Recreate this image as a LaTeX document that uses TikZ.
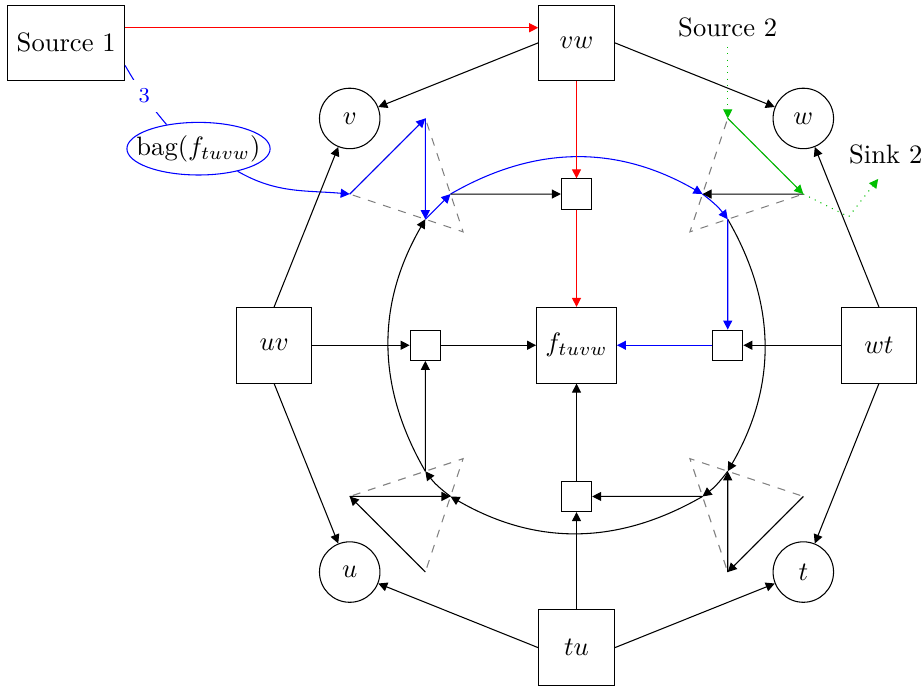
\documentclass[tikz,border=0pt]{standalone}
\usetikzlibrary{arrows.meta,shapes.geometric,calc}

\begin{document}
\begin{tikzpicture}[>={Triangle[length=3.4pt,width=3.4pt]},
    bigbox/.style={draw, minimum size=1cm},
    vertex/.style={draw, circle, minimum size=0.8cm, inner sep=0pt},
    smallbox/.style={draw, minimum size=0.4cm, inner sep=0pt},
    gadget/.style={draw, gray, dashed},
    srcgreen/.style={draw, green!75!black}]
            \useasboundingbox(-7.626,-4.52)rectangle(4.583,4.567);
            % edge nodes and vertices
            \node[bigbox](f)at(0,0){$f_{tuvw}$};
            \node[bigbox](vw)at(0,4){$vw$};
            \node[bigbox](tu)at(0,-4){$tu$};
            \node[bigbox](uv)at(-4,0){$uv$};
            \node[bigbox](wt)at(4,0){$wt$};
            \node[vertex](v)at(-3,3){$v$};
            \node[vertex](w)at(3,3){$w$};
            \node[vertex](u)at(-3,-3){$u$};
            \node[vertex](t)at(3,-3){$t$};
            % sources, sink, bag
            \node[bigbox](s1)at(-6.75,4){Source 1};
            \node(s2)at(2,4.2){Source 2};
            \node(sink)at(4.09,2.52){Sink 2};
            \coordinate(sinkend)at(3.99,2.2);
            \node[ellipse, draw=blue, inner xsep=-4.3pt, inner ysep=2pt](bag)at(-5,2.6){bag$(f_{tuvw})$};
            % small boxes
            \node[smallbox](gt)at(0,2){};
            \node[smallbox](gl)at(-2,0){};
            \node[smallbox](gr)at(2,0){};
            \node[smallbox](gb)at(0,-2){};
            % triangles
            \coordinate(tl1)at(-3,2);\coordinate(tl2)at(-2,3);\coordinate(tl3)at(-1.5,1.5);
            \coordinate(tr1)at(2,3);\coordinate(tr2)at(3,2);\coordinate(tr3)at(1.5,1.5);
            \coordinate(br1)at(3,-2);\coordinate(br2)at(2,-3);\coordinate(br3)at(1.5,-1.5);
            \coordinate(bl1)at(-3,-2);\coordinate(bl2)at(-2,-3);\coordinate(bl3)at(-1.5,-1.5);
            \path[gadget](tl1)--(tl2)--(tl3)--cycle;
            \path[gadget](tr1)--(tr2)--(tr3)--cycle;
            \path[gadget](br1)--(br2)--(br3)--cycle;
            \path[gadget](bl1)--(bl2)--(bl3)--cycle;
            \coordinate(tla)at($(tl1)!2/3!(tl3)$);
            \coordinate(tlb)at($(tl2)!2/3!(tl3)$);
            \coordinate(tra)at($(tr2)!2/3!(tr3)$);
            \coordinate(trb)at($(tr1)!2/3!(tr3)$);
            \coordinate(bra)at($(br1)!2/3!(br3)$);
            \coordinate(brb)at($(br2)!2/3!(br3)$);
            \coordinate(bla)at($(bl1)!2/3!(bl3)$);
            \coordinate(blb)at($(bl2)!2/3!(bl3)$);
            % ring
            \path[draw,->](tra)to[bend left=30](bra);
            \path[draw,->](bra)to[bend left=8](brb);
            \path[draw,->](brb)to[bend left=30](blb);
            \path[draw,->](blb)to[bend left=8](bla);
            \path[draw,->](bla)to[bend left=30](tla);
            \path[draw,blue,->](tla)--(tlb);
            \path[draw,blue,->](tlb)to[bend left=30](trb);
            \path[draw,blue,->](trb)to[bend left=8](tra);
            % inside the triangles
            \path[draw,blue,->](bag)to[out=-30,in=175](tl1);
            \path[draw,blue,->](tl1)--(tl2);
            \path[draw,blue,->](tl2)--(tla);
            \path[draw,->](tlb)--(gt);
            \path[draw,->](tr2)--(trb);
            \path[draw,blue,->](tra)--(gr);
            \path[draw,->](br1)--(br2);
            \path[draw,->](br2)--(bra);
            \path[draw,->](brb)--(gb);
            \path[draw,->](bl2)--(bl1);
            \path[draw,->](bl1)--(blb);
            \path[draw,->](bla)--(gl);
            % source 2 to sink 2
            \path[srcgreen,dotted,->](s2)--(tr1);
            \path[srcgreen,->](tr1)--(tr2);
            \path[srcgreen,dotted,->](tr2)--(3.6,1.7)--(sinkend);
            % spokes
            \path[draw,red,->](vw)--(gt);
            \path[draw,red,->](gt)--(f);
            \path[draw,->](uv)--(gl);
            \path[draw,->](gl)--(f);
            \path[draw,->](wt)--(gr);
            \path[draw,blue,->](gr)--(f);
            \path[draw,->](tu)--(gb);
            \path[draw,->](gb)--(f);
            % outer edges
            \path[draw,->](vw.west)--(v);
            \path[draw,->](vw.east)--(w);
            \path[draw,->](uv.north)--(v);
            \path[draw,->](uv.south)--(u);
            \path[draw,->](wt.north)--(w);
            \path[draw,->](wt.south)--(t);
            \path[draw,->](tu.west)--(u);
            \path[draw,->](tu.east)--(t);
            % source 1
            \path[draw,red,->]([yshift=0.2cm]s1.east)--([yshift=0.2cm]vw.west);
            \path[draw,blue](s1.-21)to[bend right=5]node[fill=white,font=\footnotesize]{3}(bag.143);
        \end{tikzpicture}
\end{document}
